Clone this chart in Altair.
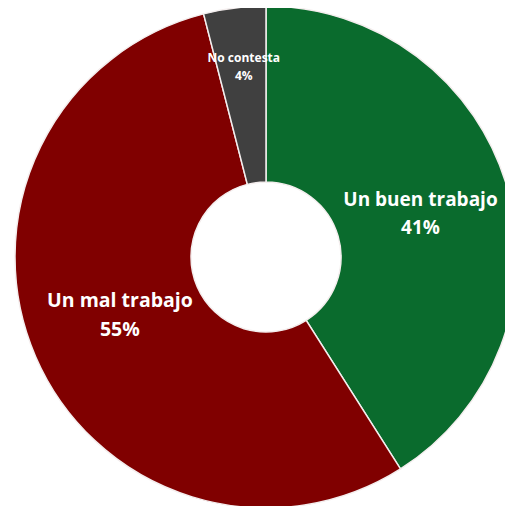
import altair as alt
import pandas as pd

categories = ["Un buen trabajo", "Un mal trabajo", "No contesta"]
values = [41, 55, 4]
pct_labels = ["41%", "55%", "4%"]
colors = ["#0a6b2d", "#800000", "#404040"]

df = pd.DataFrame({
    "category": categories,
    "value": values,
    "order": list(range(len(categories))),
    "label": [c + "\n" + p for c, p in zip(categories, pct_labels)],
})

cx, cy = 258, 249

base = alt.Chart(df).encode(
    theta=alt.Theta("value:Q", stack=True),
    order=alt.Order("order:Q"),
    x=alt.value(cx),
    y=alt.value(cy),
)

arcs = base.mark_arc(outerRadius=251, innerRadius=75, stroke="#f4eeee", strokeWidth=1.5).encode(
    color=alt.Color("category:N", scale=alt.Scale(domain=categories, range=colors), legend=None),
)


def label_layer(cat, radius, size, line_h, dx, dy):
    return base.mark_text(radius=radius, font="Open Sans", fontWeight="bold", fontSize=size,
                          color="white", lineBreak="\n", lineHeight=line_h, baseline="middle",
                          dx=dx, dy=dy).encode(
        text=alt.condition(alt.datum.category == cat, "label:N", alt.value("")),
    )


green_lbl = label_layer("Un buen trabajo", 164, 19, 28, -3, -11)
red_lbl = label_layer("Un mal trabajo", 157, 19.5, 29, -2, -18)
gray_lbl = label_layer("No contesta", 193, 12, 18, 2, -8)

chart = alt.layer(arcs, green_lbl, red_lbl, gray_lbl).properties(
    width=497, height=498, padding=0, autosize=alt.AutoSizeParams(type="none"),
    background="white",
).configure_view(stroke=None)

chart.save("out.html", embed_options={"renderer": "svg", "actions": False})
